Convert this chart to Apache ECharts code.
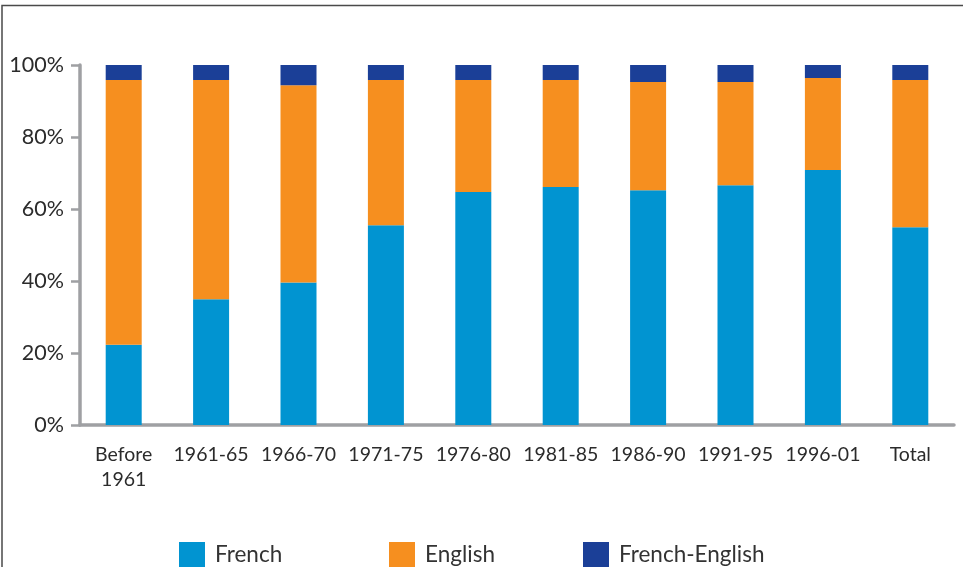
<!DOCTYPE html>
<html>
<head>
<meta charset="utf-8">
<script src="https://cdn.jsdelivr.net/npm/echarts@6/dist/echarts.min.js"></script>
<style>html,body{margin:0;padding:0;background:#fff}#c{width:963px;height:567px}</style>
</head>
<body>
<div id="c"></div>
<script>
var categories = ['Before\n1961','1961-65','1966-70','1971-75','1976-80','1981-85','1986-90','1991-95','1996-01','Total'];
var french = [22.3, 34.9, 39.6, 55.5, 64.7, 66.1, 65.2, 66.6, 70.8, 54.9];
var english = [73.5, 60.9, 54.8, 40.3, 31.1, 29.7, 30.1, 28.7, 25.6, 40.9];
var frenchEnglish = [4.2, 4.2, 5.6, 4.2, 4.2, 4.2, 4.7, 4.7, 3.6, 4.2];
var yTicks = [0, 20, 40, 60, 80, 100];
var seriesNames = ['French', 'English', 'French-English'];

var FONT = 'Lato';
var chart = echarts.init(document.getElementById('c'), null, {renderer: 'canvas'});
var colors = ['#0194d1', '#f68f1f', '#1b3f97'];
function legend(name, left) {
  return {
    data: [name], left: left, top: 537, itemWidth: 26, itemHeight: 26, itemGap: 0,
    icon: 'rect',
    textStyle: {fontFamily: FONT, fontSize: 22.5, color: '#333', padding: [0, 0, 0, 5]}
  };
}
chart.setOption({
  animation: false,
  color: colors,
  graphic: [{
    type: 'rect', silent: true,
    shape: {x: 2, y: 5.5, width: 1100, height: 700},
    style: {fill: 'none', stroke: '#4a4a4a', lineWidth: 1.5}
  }],
  legend: [legend(seriesNames[0], 174), legend(seriesNames[1], 384), legend(seriesNames[2], 578)],
  grid: {left: 80, right: 9, top: 65, bottom: 142, containLabel: false},
  xAxis: {
    type: 'category', data: categories,
    axisLine: {lineStyle: {color: '#9fa0a3', width: 3.5}},
    axisTick: {length: 7, lineStyle: {color: '#9fa0a3', width: 2.5}},
    axisLabel: {fontFamily: FONT, fontSize: 19.5, color: '#2b2b2b', margin: 17, lineHeight: 25, interval: 0}
  },
  yAxis: {
    type: 'value', min: 0, max: 100, interval: 20,
    axisLine: {show: true, lineStyle: {color: '#9fa0a3', width: 3.5}},
    axisTick: {show: true, length: 9, lineStyle: {color: '#9fa0a3', width: 2.5}},
    splitLine: {show: false},
    axisLabel: {fontFamily: FONT, fontSize: 21.5, color: '#2b2b2b', margin: 16,
      formatter: function (v) { return yTicks.indexOf(v) >= 0 ? v + '%' : ''; }}
  },
  series: [
    {name: seriesNames[0], type: 'bar', stack: 't', data: french, barWidth: 36},
    {name: seriesNames[1], type: 'bar', stack: 't', data: english, barWidth: 36},
    {name: seriesNames[2], type: 'bar', stack: 't', data: frenchEnglish, barWidth: 36}
  ]
});
</script>
</body>
</html>
